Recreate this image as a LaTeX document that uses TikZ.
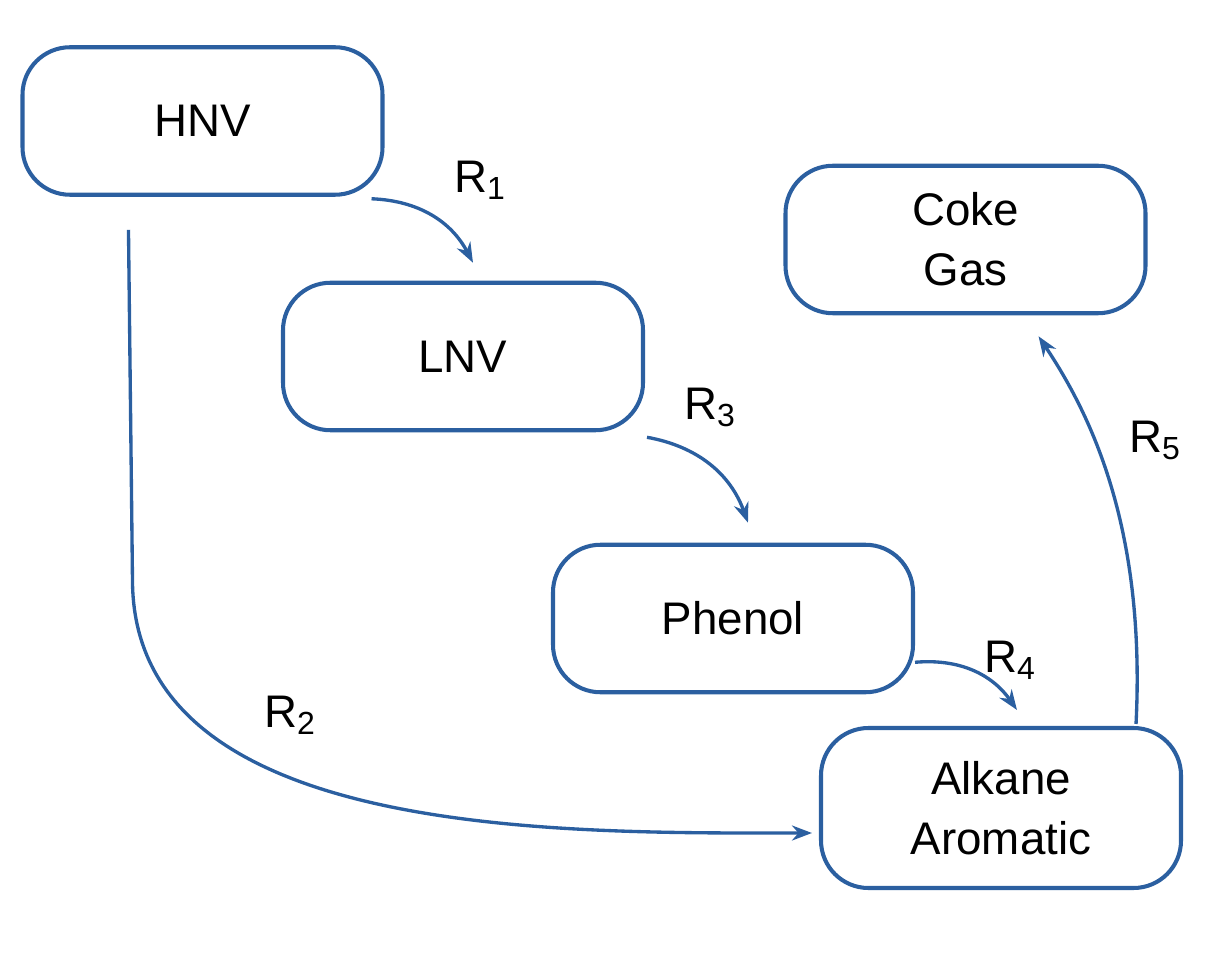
\documentclass[tikz,border=0pt]{standalone}
\usepackage{fontspec}
\setmainfont{Liberation Sans}
\usetikzlibrary{arrows.meta}
\definecolor{flowblue}{HTML}{2B5FA0}
\begin{document}
\begin{tikzpicture}
\tikzset{
  box/.style={draw=flowblue, line width=2.3pt, rounded corners=0.95cm,
    minimum width=7.2cm, minimum height=2.95cm, align=center,
    font=\fontsize{26}{34}\selectfont},
  flow/.style={-{Stealth[length=0.4cm,width=0.3cm]}, draw=flowblue, line width=1.9pt},
  rate/.style={font=\fontsize{26}{30}\selectfont}
}
\useasboundingbox (0,0) rectangle (24.34,19.1);
% Species
\node[box] (hnv) at (4.05,16.68) {HNV};
\node[box] (lnv) at (9.26,11.97) {LNV};
\node[box] (coke) at (19.31,14.31) {Coke\\Gas};
\node[box] (phenol) at (14.66,6.73) {Phenol};
\node[box, minimum height=3.2cm] (alkane) at (20.02,2.94) {Alkane\\Aromatic};
% Reactions
\draw[flow] ([xshift=-0.26cm,yshift=-0.04cm]hnv.south east) to[bend left=30]
  ([xshift=3.84cm,yshift=0.36cm]lnv.north west);
\draw[flow] ([xshift=2.16cm,yshift=-0.66cm]hnv.south west) -- ++(0.08,-7)
  .. controls +(0,-5.2) and +(-5,0) .. ([xshift=-0.14cm,yshift=-0.5cm]alkane.west);
\draw[flow] ([xshift=0.04cm,yshift=-0.1cm]lnv.south east) to[bend left=30]
  ([xshift=3.94cm,yshift=0.4cm]phenol.north west);
\draw[flow] ([yshift=0.64cm]phenol.south east) to[bend left=30]
  ([xshift=3.96cm,yshift=0.32cm]alkane.north west);
\draw[flow] ([xshift=-0.94cm,yshift=0.04cm]alkane.north east)
  .. controls +(0.2,4) and +(1,-1.5) .. ([xshift=-2.18cm,yshift=-0.42cm]coke.south east);
% Labels
\node[rate] (r1) at (9.6,15.5) {R\textsubscript{1}};
\node[rate] (r2) at (5.8,4.8) {R\textsubscript{2}};
\node[rate] (r3) at (14.2,10.95) {R\textsubscript{3}};
\node[rate] (r4) at (20.2,5.9) {R\textsubscript{4}};
\node[rate] (r5) at (23.1,10.3) {R\textsubscript{5}};
\end{tikzpicture}
\end{document}
